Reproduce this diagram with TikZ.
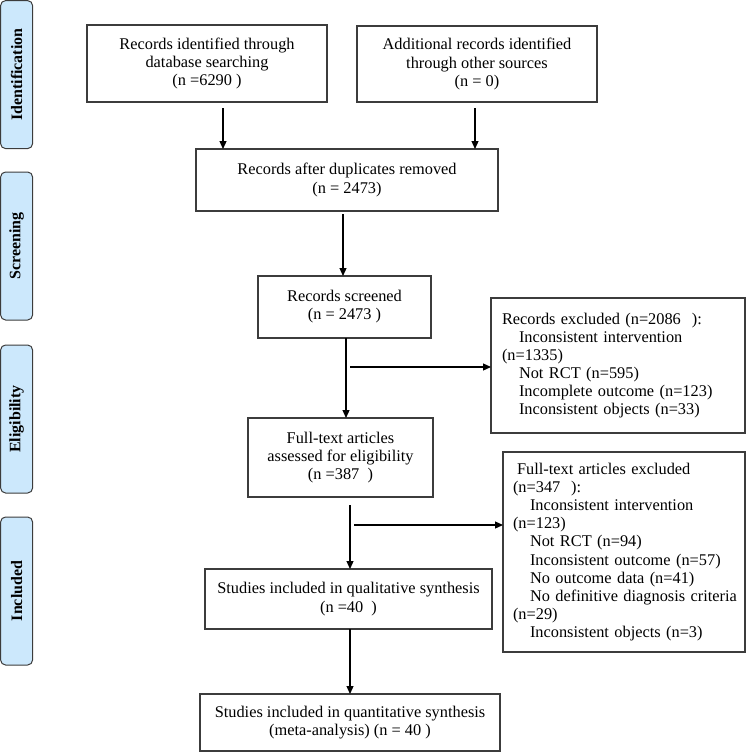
\documentclass[tikz,border=0pt]{standalone}
\usepackage{fontspec}
\setmainfont{Liberation Serif}
\usetikzlibrary{arrows.meta,calc}
\definecolor{phase}{RGB}{204,232,252}
\definecolor{edge}{RGB}{60,60,60}
\begin{document}
\begin{tikzpicture}[x=1bp,y=-1bp,
  txt/.style={font=\fontsize{16.4}{18.2}\selectfont},
  box/.style={txt,draw=edge,line width=1.1bp,inner sep=0pt,outer sep=0pt,align=center,anchor=north west},
  excl/.style={txt,draw=edge,line width=1.1bp,inner ysep=0pt,outer sep=0pt,align=left,anchor=north west},
  phasebox/.style={draw=edge,fill=phase,rounded corners=5bp,line width=1bp,anchor=north west,
    minimum width=32bp,minimum height=148bp,inner sep=0pt,outer sep=0pt,
    font=\fontsize{16}{18}\selectfont\bfseries},
  arr/.style={-{Triangle[length=8bp,width=7bp]},line width=1.2bp}]
\useasboundingbox (0,0) rectangle (751,756);

% phase labels
\node[phasebox] (pid) at (0.6,0.6) {\rotatebox{90}{Identification}};
\node[phasebox] (psc) at (0.6,172) {\rotatebox{90}{Screening}};
\node[phasebox] (pel) at (0.6,345) {\rotatebox{90}{Eligibility}};
\node[phasebox] (pin) at (0.6,517) {\rotatebox{90}{Included}};

% main boxes
\node[box,minimum width=240bp,minimum height=77bp] (b1) at (87,25)
  {Records identified through\\database searching\\(n =6290 )};
\node[box,minimum width=240bp,minimum height=76bp] (b2) at (357,26)
  {Additional records identified\\through other sources\\(n = 0)};
\node[box,minimum width=302bp,minimum height=62bp] (b3) at (196,149)
  {Records after duplicates removed\\(n = 2473)};
\node[box,minimum width=173bp,minimum height=62bp] (b4) at (258,276)
  {Records screened\\(n = 2473 )};
\node[box,minimum width=185bp,minimum height=79bp] (b5) at (248,418)
  {Full-text articles\\assessed for eligibility\\(n =387~~)};
\node[box,minimum width=287bp,minimum height=60bp] (b6) at (205,569)
  {Studies included in qualitative synthesis\\(n =40~~)};
\node[box,minimum width=300bp,minimum height=57bp] (b7) at (200,694)
  {Studies included in quantitative synthesis\\(meta-analysis) (n = 40 )};

% exclusion boxes
\node[excl,inner xsep=11bp,text width=232bp,minimum height=135bp] (e1) at (491,298)
  {\mbox{Records excluded (n=2086~~):}\\
   \mbox{\hspace*{17bp}Inconsistent intervention}\\
   \mbox{(n=1335)}\\
   \mbox{\hspace*{17bp}Not RCT (n=595)}\\
   \mbox{\hspace*{17bp}Incomplete outcome (n=123)}\\
   \mbox{\hspace*{17bp}Inconsistent objects (n=33)}};
\node[excl,inner xsep=10bp,text width=222bp,minimum height=200bp] (e2) at (503,452)
  {\mbox{\hspace*{4bp}Full-text articles excluded}\\
   \mbox{(n=347~~):}\\
   \mbox{\hspace*{17bp}Inconsistent intervention}\\
   \mbox{(n=123)}\\
   \mbox{\hspace*{17bp}Not RCT (n=94)}\\
   \mbox{\hspace*{17bp}Inconsistent outcome (n=57)}\\
   \mbox{\hspace*{17bp}No outcome data (n=41)}\\
   \mbox{\hspace*{17bp}No definitive diagnosis criteria}\\
   \mbox{(n=29)}\\
   \mbox{\hspace*{17bp}Inconsistent objects (n=3)}};

% connectors
\draw[arr] ($(b1.south)+(16,6)$) -- ($(b1.south |- b3.north)+(16,0)$);
\draw[arr] ($(b2.south)+(-2,6)$) -- ($(b2.south |- b3.north)+(-2,0)$);
\draw[arr] ($(b3.south)+(-4,3)$) -- ($(b3.south |- b4.north)+(-4,0)$);
\draw[arr] ($(b4.south)+(1.5,0)$) -- ($(b4.south |- b5.north)+(1.5,0)$);
\coordinate (br1) at (350,367);
\draw[arr] (br1) -- (br1 -| e1.west);
\draw[arr] ($(b5.south)+(9.5,8)$) -- ($(b5.south |- b6.north)+(9.5,0)$);
\coordinate (br2) at (354,525);
\draw[arr] (br2) -- (br2 -| e2.west);
\draw[arr] ($(b6.south)+(1.5,0)$) -- ($(b6.south |- b7.north)+(1.5,0)$);
\end{tikzpicture}
\end{document}
